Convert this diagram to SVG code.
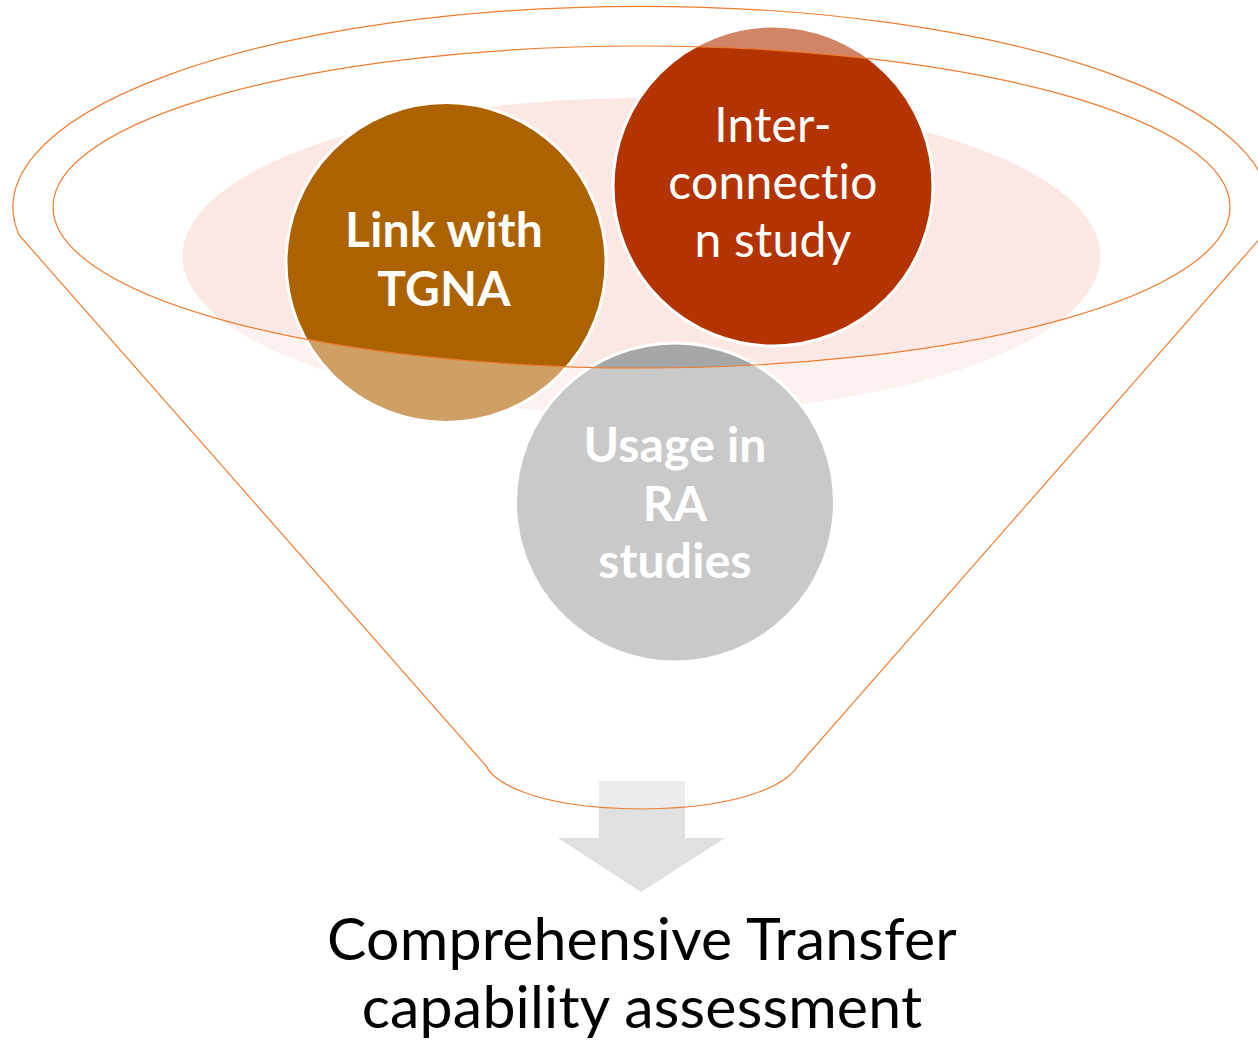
<svg xmlns="http://www.w3.org/2000/svg" width="1258" height="1041" viewBox="0 0 1258 1041">
<style>
.circ{stroke:#FFFFFF;stroke-width:3}
.lbl{font-family:Lato,"Open Sans",sans-serif;font-size:48px;fill:#FFFFFF;text-anchor:middle;font-variant-ligatures:none;font-feature-settings:"liga" 0,"clig" 0,"dlig" 0,"calt" 0;letter-spacing:0.2px}
.b{font-weight:bold}
.cap{font-family:Lato,"Open Sans",sans-serif;font-size:59px;fill:#000000;text-anchor:middle;font-variant-ligatures:none;font-feature-settings:"liga" 0,"clig" 0,"dlig" 0,"calt" 0;letter-spacing:0.2px}
</style>
<rect width="1258" height="1041" fill="#FFFFFF"/>
<ellipse id="glow" cx="641.5" cy="256" rx="459" ry="158" fill="#FBE8E4"/>
<g id="node-link">
<circle class="circ" cx="446" cy="262.5" r="160" fill="#AD6200"/>
<text class="lbl b"><tspan x="444" y="247">Link with</tspan><tspan x="444" y="306">TGNA</tspan></text>
</g>
<g id="node-interconnection">
<circle class="circ" cx="773" cy="186" r="160" fill="#B33400"/>
<text class="lbl"><tspan x="773" y="142">Inter-</tspan><tspan x="773" y="199">connectio</tspan><tspan x="773" y="257">n study</tspan></text>
</g>
<g id="node-usage">
<circle class="circ" cx="675" cy="502.5" r="159.5" fill="#A6A6A6"/>
<text class="lbl b"><tspan x="675" y="462">Usage in</tspan><tspan x="675" y="521">RA</tspan><tspan x="675" y="578">studies</tspan></text>
</g>
<g id="connectors">
<path id="arrow" d="M599 781 H685 V838 H725 L641 892 L558 838 H599 Z" fill="#E0E0E0"/>
</g>
<g id="funnel">
<path fill="#FFFFFF" fill-opacity="0.4" fill-rule="evenodd" stroke="#ED7D31" stroke-width="1.2" d="M19 235 A628 201 0 1 1 1263 235 L797 767 C792 776 760 808 641 809 C522 808 490 776 487 767 Z M53 207 A588.5 161 0 1 0 1230 207 A588.5 161 0 1 0 53 207 Z"/>
</g>
<g id="result">
<text class="cap"><tspan x="642" y="960">Comprehensive Transfer</tspan><tspan x="642" y="1028">capability assessment</tspan></text>
</g>
</svg>
